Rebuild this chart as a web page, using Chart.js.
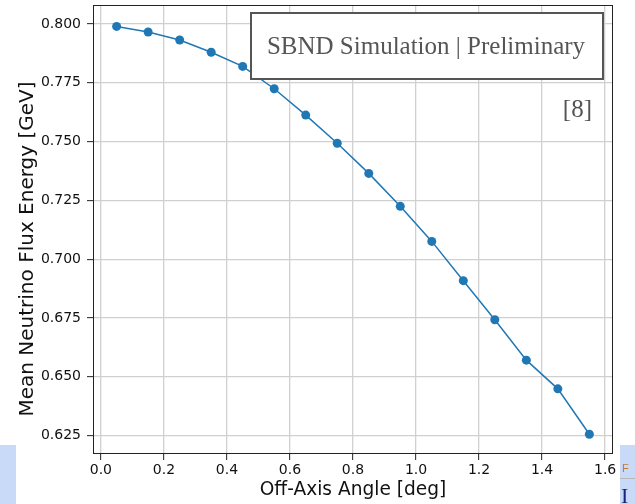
<!DOCTYPE html>
<html>
<head>
<meta charset="utf-8">
<script src="https://cdn.jsdelivr.net/npm/chart.js@4/dist/chart.umd.min.js"></script>
<style>
  html, body { margin: 0; padding: 0; background: #fff; }
  #wrap { width: 635px; height: 504px; }
</style>
</head>
<body>
<div id="wrap"><canvas id="c" width="635" height="504"></canvas></div>
<script>
// Off-axis angle (deg) and mean flux energy (GeV)
const angles = [0.05, 0.15, 0.25, 0.35, 0.45, 0.55, 0.65, 0.75, 0.85, 0.95, 1.05, 1.15, 1.25, 1.35, 1.45, 1.55];
const meanEnergy = [0.7990, 0.7966, 0.7932, 0.7880, 0.7820, 0.7725, 0.7613, 0.7493, 0.7365, 0.7225, 0.7076, 0.6909, 0.6743, 0.6571, 0.6449, 0.6256];
const xTicks = [0.0, 0.2, 0.4, 0.6, 0.8, 1.0, 1.2, 1.4, 1.6];
const yTicks = [0.625, 0.650, 0.675, 0.700, 0.725, 0.750, 0.775, 0.800];
const yLabel = 'Mean Neutrino Flux Energy [GeV]';
const xLabel = 'Off-Axis Angle [deg]';

const tickFont = { family: 'DejaVu Sans', size: 14 };
const gridColor = '#d0d0d0';
const spineColor = '#222';

// Frame, y-axis label, annotation box and the corner decorations
const overlay = {
  id: 'overlay',
  beforeDraw(chart) {
    const ctx = chart.ctx;
    ctx.save();
    ctx.fillStyle = '#c9daf8';
    ctx.fillRect(0, 445, 16, 59);
    ctx.fillRect(620, 445, 15, 59);
    ctx.fillStyle = '#b8b8b8';
    ctx.fillRect(620, 478, 15, 1);
    ctx.fillStyle = '#c27a2c';
    ctx.font = '11px "Liberation Sans"';
    ctx.textBaseline = 'alphabetic';
    ctx.fillText('F', 622, 472);
    ctx.fillStyle = '#1a237e';
    ctx.font = '22px "Liberation Serif"';
    ctx.fillText('I', 621, 503);
    // rotated y-axis label
    ctx.translate(28, 249);
    ctx.rotate(-Math.PI / 2);
    ctx.fillStyle = '#111';
    ctx.font = '20px "DejaVu Sans"';
    ctx.textAlign = 'center';
    ctx.textBaseline = 'middle';
    ctx.fillText(yLabel, 0, 0);
    ctx.restore();
  },
  afterDatasetsDraw(chart) {
    const ctx = chart.ctx;
    const a = chart.chartArea;
    ctx.save();
    ctx.strokeStyle = spineColor;
    ctx.lineWidth = 1;
    ctx.strokeRect(Math.round(a.left) + 0.5, Math.round(a.top) + 0.5,
                   Math.round(a.right - a.left) - 1, Math.round(a.bottom - a.top) - 1);
    // annotation box
    ctx.fillStyle = '#ffffff';
    ctx.fillRect(250, 12, 354, 68);
    ctx.strokeStyle = '#555555';
    ctx.lineWidth = 2;
    ctx.strokeRect(251, 13, 352, 66);
    ctx.fillStyle = '#555555';
    ctx.font = '25px "Liberation Serif"';
    ctx.textAlign = 'center';
    ctx.textBaseline = 'alphabetic';
    ctx.fillText('SBND Simulation | Preliminary', 426, 54);
    ctx.textAlign = 'right';
    ctx.fillText('[8]', 592, 117);
    ctx.restore();
  }
};

new Chart(document.getElementById('c'), {
  type: 'line',
  data: {
    datasets: [{
      data: angles.map((a, i) => ({ x: a, y: meanEnergy[i] })),
      borderColor: '#1f77b4',
      backgroundColor: '#1f77b4',
      borderWidth: 1.5,
      pointRadius: 4.5,
      pointHoverRadius: 4.5,
      pointBorderWidth: 0,
      tension: 0,
      fill: false
    }]
  },
  options: {
    responsive: false,
    animation: false,
    devicePixelRatio: 1,
    layout: { padding: { top: 5, right: 22, left: 0, bottom: 0 } },
    plugins: { legend: { display: false }, tooltip: { enabled: false } },
    scales: {
      x: {
        type: 'linear',
        min: -0.025,
        max: 1.625,
        afterFit(s) { s.height = 50; s.paddingLeft = 0; s.paddingRight = 0; },
        afterBuildTicks(s) { s.ticks = xTicks.map(v => ({ value: v })); },
        ticks: {
          font: tickFont, color: '#111', padding: 2, maxRotation: 0,
          callback: v => Number(v).toFixed(1)
        },
        grid: { color: gridColor, lineWidth: 1.3, tickLength: 6, tickColor: spineColor, tickWidth: 1 },
        border: { display: false },
        title: {
          display: true, text: xLabel, color: '#111',
          font: { family: 'DejaVu Sans', size: 18.6 }, padding: { top: 0, bottom: 3 }
        }
      },
      y: {
        type: 'linear',
        min: 0.6172,
        max: 0.8081,
        afterFit(s) { s.width = 93; s.paddingTop = 0; s.paddingBottom = 0; },
        afterBuildTicks(s) { s.ticks = yTicks.map(v => ({ value: v })); },
        ticks: {
          font: tickFont, color: '#111', padding: 6,
          callback: v => Number(v).toFixed(3)
        },
        grid: { color: gridColor, lineWidth: 1.3, tickLength: 6, tickColor: spineColor, tickWidth: 1 },
        border: { display: false },
        title: { display: false }
      }
    }
  },
  plugins: [overlay]
});
</script>
</body>
</html>
